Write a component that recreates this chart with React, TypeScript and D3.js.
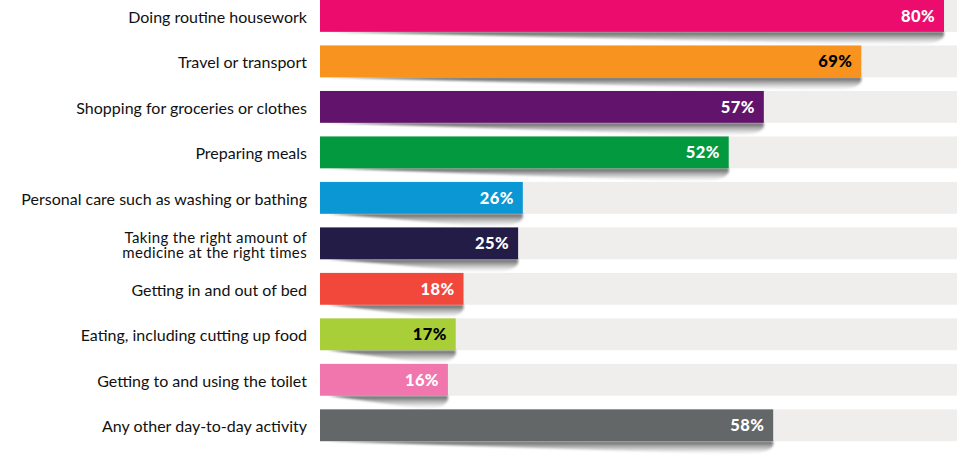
import React from "react";
import * as d3 from "d3";

const categories: string[][] = [
  ["Doing routine housework"],
  ["Travel or transport"],
  ["Shopping for groceries or clothes"],
  ["Preparing meals"],
  ["Personal care such as washing or bathing"],
  ["Taking the right amount of", "medicine at the right times"],
  ["Getting in and out of bed"],
  ["Eating, including cutting up food"],
  ["Getting to and using the toilet"],
  ["Any other day-to-day activity"],
];
// values; labels show them rounded
const values: number[] = [80, 69.4, 56.9, 52.4, 26, 25.4, 18.4, 17.4, 16.4, 58.1];
const colors: string[] = [
  "#EC0C6E", "#F7931E", "#62136B", "#03993F", "#0B96D4",
  "#231C46", "#F2483C", "#A8CF38", "#F176AE", "#636767",
];
const labelColors: string[] = [
  "#fff", "#000", "#fff", "#fff", "#fff", "#fff", "#fff", "#000", "#fff", "#fff",
];

const W = 957;
const H = 455;

export default function App() {
  const x = d3.scaleLinear().domain([0, 80]).range([320, 944]);
  const y = d3
    .scaleBand<number>()
    .domain(d3.range(values.length))
    .range([0, 441.2])
    .paddingInner(0.3)
    .paddingOuter(0);
  const bh = y.bandwidth();
  const font = "Lato, 'Open Sans', sans-serif";
  const fmt = d3.format(".0f");
  const lh = 14.5;

  return (
    <svg
      width={W}
      height={H}
      style={{ position: "absolute", left: 0, top: 0, background: "#fff" }}
    >
      <defs>
        <linearGradient id="shg" x1="0" y1="0" x2="0" y2="1">
          <stop offset="0" stopColor="#444" stopOpacity="0.9" />
          <stop offset="0.5" stopColor="#888" stopOpacity="0.55" />
          <stop offset="1" stopColor="#bbb" stopOpacity="0" />
        </linearGradient>
        <filter id="blur" x="-0.1" y="-1" width="1.2" height="3">
          <feGaussianBlur stdDeviation="1.3" />
        </filter>
      </defs>
      {values.map((v, i) => {
        const top = y(i) as number;
        const b = top + bh;
        const x0 = x(0);
        const x1 = x(v);
        const len = x1 - x0;
        const shadow = `M${x0 + 8},${b} L${x1},${b} L${x1},${b + 4} Q${x1 - 4},${b + 14} ${x1 - Math.min(40, len * 0.2)},${b + 13} L${x0 + len * 0.35},${b + 5} Z`;
        const n = categories[i].length;
        const cy = top + bh / 2 + 1 + (n > 1 ? 1 : 0);
        return (
          <g key={i}>
            <rect x={x0} y={top} width={W - x0} height={bh} fill="#EFEEEC" />
            <path d={shadow} fill="url(#shg)" filter="url(#blur)" />
            <rect x={x0} y={top} width={len} height={bh} fill={colors[i]} />
            <text
              x={x1 - 9}
              y={top + bh / 2}
              dy="0.36em"
              textAnchor="end"
              fontFamily={font}
              fontWeight={900}
              fontSize={16.5}
              letterSpacing={0.4}
              fill={labelColors[i]}
            >
              {fmt(v)}%
            </text>
            {categories[i].map((line, j) => (
              <text
                key={j}
                x={307}
                y={cy + (j - (n - 1) / 2) * lh}
                dy="0.36em"
                textAnchor="end"
                fontFamily={font}
                fontSize={n > 1 ? 15 : 16}
                letterSpacing={n > 1 ? 0.35 : 0}
                fill="#111"
              >
                {line}
              </text>
            ))}
          </g>
        );
      })}
    </svg>
  );
}
